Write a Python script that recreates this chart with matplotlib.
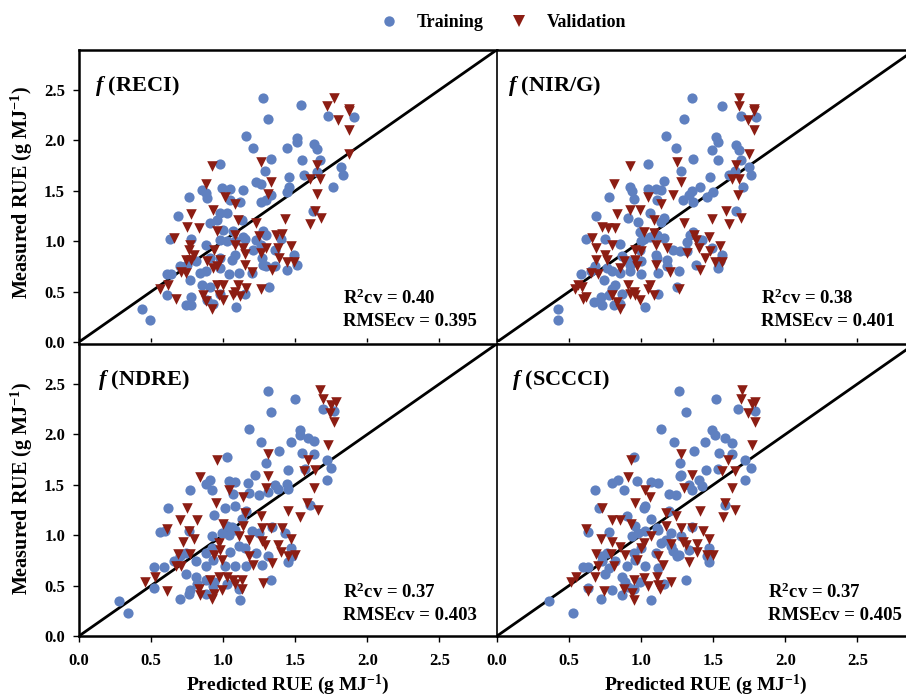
import matplotlib
matplotlib.use('Agg')
import matplotlib.pyplot as plt
from matplotlib.lines import Line2D

plt.rcParams['font.family'] = ['Liberation Serif', 'DejaVu Serif']
plt.rcParams['font.weight'] = 'bold'
plt.rcParams['mathtext.fontset'] = 'custom'
plt.rcParams['mathtext.rm'] = 'Liberation Serif:bold'
plt.rcParams['mathtext.it'] = 'Liberation Serif:italic:bold'
plt.rcParams['mathtext.bf'] = 'Liberation Serif:bold'

# ---------------- data (predicted, measured) ----------------
reci_train = [(1.28,2.42),(1.54,2.35),(1.31,2.21),(1.73,2.24),(1.91,2.23),(1.16,2.04),(1.21,1.92),(1.51,2.02),(1.51,1.98),(1.44,1.92),
    (1.63,1.96),(1.65,1.91),(1.33,1.82),(1.55,1.81),(1.67,1.81),(0.98,1.77),(1.29,1.70),(1.46,1.64),(1.56,1.66),(1.65,1.69),
    (1.82,1.74),(1.83,1.66),(1.23,1.59),(1.26,1.57),(1.46,1.54),(1.44,1.49),(1.76,1.54),(0.85,1.51),(0.88,1.48),(0.99,1.53),
    (1.05,1.52),(1.14,1.51),(1.33,1.46),(1.30,1.41),(1.26,1.39),(0.76,1.44),(0.89,1.43),(1.05,1.41),(1.12,1.39),(0.69,1.25),
    (0.98,1.28),(1.03,1.28),(0.96,1.21),(0.91,1.18),(1.13,1.21),(1.62,1.30),(1.00,1.11),(1.07,1.10),(1.28,1.10),(1.30,1.06),
    (0.63,1.02),(0.78,1.02),(0.88,0.96),(0.98,1.01),(1.03,1.00),(1.14,1.04),(1.15,1.02),(1.08,1.00),(1.23,1.01),(1.26,0.96),
    (1.40,1.02),(1.36,0.91),(1.21,0.91),(1.08,0.86),(0.98,0.83),(1.49,0.86),(0.91,0.83),(0.70,0.75),(0.75,0.76),(0.81,0.80),
    (0.88,0.70),(0.98,0.73),(1.06,0.81),(1.28,0.76),(1.27,0.83),(1.30,0.75),(1.36,0.75),(1.44,0.71),(1.51,0.76),(0.61,0.67),
    (0.64,0.67),(0.77,0.62),(0.84,0.68),(0.85,0.57),(0.91,0.55),(1.04,0.67),(1.11,0.68),(1.20,0.68),(1.32,0.55),(1.15,0.48),
    (0.61,0.47),(0.74,0.37),(0.78,0.45),(0.78,0.37),(0.89,0.42),(0.93,0.38),(0.98,0.48),(1.09,0.35),(0.44,0.33),(0.49,0.22)]
reci_valid = [(1.77,2.42),(1.72,2.34),(1.87,2.31),(1.87,2.29),(1.80,2.20),(1.87,2.10),(1.87,1.87),(0.92,1.75),(1.26,1.79),(1.65,1.76),
    (1.60,1.62),(1.67,1.62),(0.88,1.57),(1.33,1.59),(1.01,1.44),(1.08,1.37),(1.31,1.47),(1.65,1.47),(0.93,1.31),(0.78,1.27),
    (1.64,1.30),(1.68,1.23),(1.43,1.22),(1.60,1.17),(1.10,1.21),(1.23,1.18),(0.75,1.14),(0.83,1.13),(0.96,1.10),(0.66,1.03),
    (1.08,1.06),(1.25,1.05),(1.37,1.06),(1.41,1.07),(0.77,0.96),(0.76,0.91),(1.08,0.96),(1.14,0.93),(1.15,0.87),(1.30,0.93),
    (1.38,0.93),(1.47,0.95),(0.94,0.91),(0.80,0.86),(0.74,0.81),(0.78,0.81),(0.89,0.80),(0.98,0.81),(0.96,0.75),(1.26,0.88),
    (1.15,0.76),(1.39,0.83),(1.44,0.79),(1.49,0.79),(0.71,0.69),(0.74,0.68),(0.93,0.73),(1.20,0.69),(1.34,0.71),(0.62,0.57),
    (0.56,0.53),(0.96,0.57),(1.00,0.57),(1.10,0.57),(1.08,0.50),(1.16,0.54),(1.26,0.53),(0.67,0.43),(0.86,0.47),(0.97,0.47),
    (1.00,0.42),(0.88,0.41),(0.92,0.33),(1.07,0.47),(1.12,0.46)]

nirg_train = [(1.35,2.42),(1.56,2.34),(1.30,2.21),(1.69,2.24),(1.80,2.23),(1.17,2.04),(1.24,1.92),(1.52,2.03),(1.53,1.98),(1.49,1.90),
    (1.66,1.95),(1.68,1.90),(1.36,1.82),(1.53,1.81),(1.69,1.81),(1.05,1.77),(1.28,1.70),(1.48,1.64),(1.61,1.66),(1.65,1.70),
    (1.75,1.74),(1.76,1.66),(1.16,1.60),(1.05,1.52),(1.10,1.52),(1.14,1.51),(0.92,1.54),(0.94,1.50),(1.35,1.50),(1.33,1.46),
    (1.41,1.54),(1.29,1.41),(1.36,1.39),(1.46,1.44),(1.50,1.49),(1.71,1.54),(0.78,1.44),(0.95,1.42),(1.11,1.41),(0.69,1.25),
    (1.06,1.28),(1.16,1.23),(1.14,1.19),(0.91,1.23),(0.98,1.19),(1.66,1.30),(1.36,1.09),(1.34,1.06),(0.99,1.09),(1.02,1.02),
    (1.06,1.04),(1.11,1.06),(0.62,1.02),(0.75,1.02),(0.85,0.97),(1.16,1.03),(1.00,1.00),(1.32,0.99),(1.42,1.01),(1.22,0.91),
    (1.10,0.86),(1.11,0.83),(1.49,0.93),(1.56,0.86),(1.55,0.80),(0.99,0.91),(0.87,0.85),(0.92,0.80),(0.92,0.76),(1.00,0.80),
    (1.18,0.81),(1.27,0.90),(1.32,0.90),(1.18,0.75),(1.38,0.76),(1.53,0.73),(0.58,0.67),(0.65,0.70),(0.68,0.75),(0.76,0.73),
    (0.80,0.70),(0.74,0.62),(0.85,0.68),(0.92,0.70),(1.12,0.68),(1.00,0.67),(1.26,0.70),(1.25,0.55),(0.82,0.57),(0.80,0.53),
    (0.87,0.48),(0.78,0.47),(0.72,0.45),(0.67,0.40),(0.73,0.37),(0.81,0.37),(0.85,0.38),(1.03,0.35),(1.12,0.48),(0.42,0.33),
    (0.42,0.22)]
nirg_valid = [(1.68,2.42),(1.68,2.34),(1.78,2.31),(1.78,2.29),(1.74,2.20),(1.78,2.10),(1.75,1.87),(0.92,1.75),(1.25,1.79),(1.66,1.76),
    (1.63,1.62),(1.68,1.62),(0.81,1.57),(1.28,1.59),(1.05,1.44),(1.14,1.37),(1.22,1.46),(1.67,1.46),(0.92,1.31),(0.99,1.31),
    (0.83,1.27),(1.59,1.30),(1.69,1.23),(1.49,1.22),(1.61,1.17),(1.09,1.21),(1.30,1.18),(0.73,1.14),(0.77,1.13),(0.82,1.13),
    (1.02,1.09),(0.66,1.03),(1.09,1.08),(1.37,1.06),(1.38,1.01),(1.47,1.04),(0.69,0.93),(0.80,0.96),(1.10,0.96),(1.18,0.93),
    (1.00,0.90),(1.40,0.93),(1.55,0.95),(1.48,0.90),(0.96,0.91),(0.75,0.86),(0.69,0.81),(0.76,0.81),(0.88,0.80),(0.96,0.81),
    (0.97,0.75),(1.32,0.88),(1.10,0.76),(1.44,0.83),(1.51,0.79),(1.56,0.79),(0.85,0.73),(0.65,0.68),(0.70,0.67),(1.20,0.69),
    (1.41,0.71),(0.56,0.57),(0.59,0.55),(0.54,0.53),(0.91,0.57),(1.06,0.57),(1.05,0.53),(0.95,0.50),(1.09,0.47),(1.26,0.53),
    (0.60,0.43),(0.62,0.45),(0.80,0.47),(0.83,0.40),(0.96,0.47),(0.99,0.42),(0.92,0.48),(0.85,0.33)]

ndre_train = [(1.31,2.43),(1.50,2.35),(1.33,2.22),(1.69,2.25),(1.77,2.23),(1.18,2.05),(1.26,1.92),(1.53,2.04),(1.53,1.99),(1.59,1.96),
    (1.63,1.93),(1.47,1.92),(1.39,1.84),(1.55,1.82),(1.63,1.81),(1.03,1.78),(1.30,1.72),(1.72,1.75),(1.75,1.67),(1.45,1.65),
    (1.57,1.66),(1.22,1.60),(1.72,1.55),(0.91,1.55),(0.88,1.51),(1.04,1.54),(1.08,1.53),(1.17,1.52),(0.77,1.45),(0.92,1.45),
    (1.07,1.41),(1.18,1.42),(1.25,1.40),(1.31,1.43),(1.36,1.50),(1.38,1.46),(1.44,1.51),(1.45,1.46),(0.62,1.27),(1.01,1.27),
    (1.08,1.29),(1.16,1.24),(0.94,1.20),(1.13,1.16),(1.60,1.30),(0.56,1.03),(0.60,1.04),(0.76,1.04),(1.03,1.09),(1.06,1.08),
    (1.08,1.05),(0.92,0.99),(0.99,1.02),(1.04,1.00),(1.20,1.04),(1.25,1.02),(1.34,1.08),(1.43,1.02),(0.70,0.79),(0.74,0.82),
    (0.81,0.74),(0.88,0.82),(0.92,0.87),(1.05,0.83),(1.11,0.89),(1.15,0.87),(1.23,0.82),(1.31,0.79),(1.47,0.87),(1.48,0.79),
    (0.52,0.68),(0.59,0.68),(0.66,0.74),(0.74,0.62),(0.81,0.59),(0.88,0.69),(0.93,0.75),(1.01,0.69),(1.08,0.69),(1.16,0.69),
    (1.27,0.70),(1.45,0.73),(0.88,0.56),(0.94,0.54),(0.93,0.50),(0.77,0.46),(0.70,0.37),(0.76,0.42),(0.82,0.52),(0.88,0.42),
    (1.03,0.52),(1.11,0.47),(1.12,0.36),(1.33,0.56),(0.52,0.48),(0.28,0.35),(0.34,0.23)]
ndre_valid = [(1.67,2.44),(1.69,2.35),(1.78,2.32),(1.75,2.29),(1.74,2.21),(1.77,2.12),(1.73,1.89),(1.31,1.81),(0.96,1.75),(1.59,1.75),
    (1.56,1.64),(1.64,1.65),(1.31,1.59),(0.84,1.58),(1.04,1.45),(1.30,1.47),(1.63,1.47),(1.14,1.38),(0.95,1.32),(1.58,1.32),
    (0.75,1.27),(1.66,1.25),(1.45,1.24),(1.53,1.18),(0.70,1.15),(0.82,1.15),(1.26,1.19),(1.15,1.22),(0.61,1.06),(1.00,1.11),
    (1.14,1.09),(1.27,1.07),(1.33,1.07),(1.41,1.07),(0.76,1.04),(0.80,0.96),(0.72,0.93),(0.97,0.92),(1.11,0.99),(1.18,0.95),
    (1.27,0.94),(1.29,0.90),(1.38,0.90),(1.47,0.96),(1.40,0.83),(0.98,0.85),(0.69,0.81),(0.77,0.81),(0.94,0.80),(0.99,0.75),
    (1.18,0.79),(1.21,0.70),(1.34,0.72),(1.45,0.79),(1.50,0.80),(0.67,0.69),(0.71,0.69),(0.46,0.54),(0.53,0.59),(0.61,0.45),
    (0.83,0.47),(0.84,0.41),(0.91,0.56),(0.97,0.59),(1.03,0.59),(0.99,0.46),(0.92,0.37),(1.07,0.56),(1.13,0.56),(1.08,0.52),
    (1.13,0.47),(1.28,0.53),(0.94,0.42)]

sccci_train = [(1.26,2.43),(1.52,2.35),(1.31,2.22),(1.67,2.25),(1.79,2.23),(1.14,2.05),(1.23,1.92),(1.49,2.04),(1.51,1.99),(1.58,1.96),
    (1.63,1.91),(1.44,1.92),(1.37,1.84),(1.54,1.82),(1.63,1.81),(0.95,1.78),(1.27,1.72),(1.72,1.75),(1.76,1.67),(1.45,1.65),
    (1.53,1.66),(1.27,1.59),(1.28,1.60),(1.72,1.55),(0.84,1.55),(0.80,1.52),(0.97,1.54),(1.07,1.53),(1.12,1.52),(0.68,1.45),
    (0.88,1.45),(1.03,1.29),(1.02,1.27),(1.19,1.41),(1.24,1.40),(1.33,1.50),(1.40,1.55),(1.42,1.49),(1.35,1.45),(0.71,1.27),
    (0.90,1.19),(1.07,1.16),(1.19,1.24),(1.58,1.30),(0.63,1.03),(0.78,1.03),(0.96,1.09),(0.98,1.02),(1.03,1.04),(1.11,1.07),
    (1.12,1.05),(1.21,1.02),(1.35,1.08),(0.94,0.99),(1.17,0.95),(1.28,0.99),(0.73,0.79),(0.76,0.82),(0.82,0.74),(0.95,0.82),
    (1.00,0.87),(1.10,0.82),(1.14,0.92),(1.21,0.89),(1.22,0.84),(1.26,0.80),(1.33,0.85),(1.47,0.87),(1.47,0.73),(1.46,0.79),
    (0.60,0.68),(0.63,0.68),(0.73,0.74),(0.75,0.62),(0.78,0.67),(0.87,0.59),(0.90,0.69),(0.96,0.75),(1.03,0.69),(1.12,0.67),
    (1.25,0.79),(0.89,0.54),(0.91,0.49),(0.99,0.54),(0.95,0.47),(0.80,0.46),(0.72,0.37),(0.87,0.41),(1.07,0.36),(1.16,0.52),
    (1.31,0.56),(0.63,0.48),(0.36,0.35),(0.53,0.23)]
sccci_valid = [(1.70,2.44),(1.69,2.35),(1.79,2.32),(1.77,2.30),(1.74,2.21),(1.79,2.12),(1.77,1.89),(1.28,1.81),(0.93,1.75),(1.60,1.75),
    (1.56,1.64),(1.65,1.64),(1.35,1.60),(0.91,1.58),(1.03,1.45),(1.30,1.47),(1.63,1.47),(1.06,1.38),(0.96,1.32),(1.58,1.32),
    (0.73,1.27),(1.65,1.25),(1.41,1.24),(1.57,1.18),(0.80,1.15),(0.85,1.15),(1.24,1.19),(1.17,1.22),(0.62,1.06),(0.93,1.11),
    (1.17,1.09),(1.28,1.07),(1.35,1.07),(1.43,1.04),(0.72,0.96),(0.80,0.93),(1.02,0.92),(1.07,0.99),(1.21,0.91),(1.29,0.93),
    (1.31,0.90),(1.39,0.91),(1.47,0.96),(1.39,0.83),(1.00,0.87),(0.69,0.81),(0.79,0.81),(0.89,0.80),(0.97,0.75),(1.12,0.79),
    (1.15,0.70),(1.33,0.73),(1.46,0.80),(1.50,0.80),(0.70,0.69),(0.81,0.69),(0.51,0.54),(0.55,0.59),(0.63,0.45),(0.74,0.45),
    (0.88,0.47),(0.95,0.56),(1.02,0.58),(1.05,0.50),(0.94,0.43),(0.95,0.36),(1.11,0.59),(1.12,0.51),(1.13,0.47),(1.21,0.54),
    (0.68,0.59),(0.85,0.88)]

panel_names = ['RECI', 'NIR/G', 'NDRE', 'SCCCI']
r2_values = ['0.40', '0.38', '0.37', '0.37']
rmse_values = ['0.395', '0.401', '0.403', '0.405']
tick_values = [0.0, 0.5, 1.0, 1.5, 2.0, 2.5]
tick_labels = ['0.0', '0.5', '1.0', '1.5', '2.0', '2.5']
series = [(reci_train, reci_valid), (nirg_train, nirg_valid),
          (ndre_train, ndre_valid), (sccci_train, sccci_valid)]

# ---------------- style ----------------
BLUE = '#5F80C0'
RED = '#8C1D13'
LIM = 2.9
W, H = 906, 698

fig = plt.figure(figsize=(W / 100, H / 100), dpi=100)
fig.patch.set_facecolor('white')

lefts = [79, 497, 79, 497]
bottoms = [342, 342, 636, 636]
title_x = [0.038, 0.027, 0.045, 0.035]
text_x = [1.83, 1.83, 1.83, 1.88]

axes = []
for i in range(4):
    ax = fig.add_axes([lefts[i] / W, 1 - bottoms[i] / H, 418 / W, LIM * 100.8 / H])
    axes.append(ax)
    ax.set_xlim(0, LIM)
    ax.set_ylim(0, LIM)
    ax.plot([0, LIM], [0, LIM], color='black', lw=2.0, zorder=1, solid_capstyle='butt')
    tr, va = series[i]
    ax.scatter([p[0] for p in tr], [p[1] for p in tr], s=54, marker='o',
               color=BLUE, linewidths=0, zorder=2)
    ax.scatter([p[0] for p in va], [p[1] for p in va], s=58, marker='v',
               color=RED, linewidths=0, zorder=3)

    for sp in ax.spines.values():
        sp.set_linewidth(1.8)
        sp.set_color('black')
    col = i % 2
    row = i // 2
    if col == 0:
        ax.spines['right'].set_visible(False)
    else:
        ax.spines['left'].set_linewidth(1.2)
    if row == 0:
        ax.spines['bottom'].set_visible(False)

    ax.set_xticks(tick_values)
    ax.set_yticks(tick_values)
    if row == 1:
        ax.set_xticklabels(tick_labels)
        ax.tick_params(axis='x', direction='out', length=4, width=1, pad=8,
                       labelsize=12)
        ax.set_xlabel('Predicted RUE (g MJ$^{-1}$)', fontsize=14, fontweight='bold',
                      labelpad=3)
    else:
        ax.tick_params(axis='x', direction='in', length=3, width=1, labelbottom=False)
    if col == 0:
        ax.set_yticklabels(tick_labels)
        ax.tick_params(axis='y', direction='out', length=4, width=1, pad=6,
                       labelsize=12)
    else:
        ax.tick_params(axis='y', left=False, labelleft=False)
    for lab in ax.get_xticklabels() + ax.get_yticklabels():
        lab.set_fontweight('bold')

    ax.text(title_x[i], 0.875, '$f$ (' + panel_names[i] + ')', transform=ax.transAxes,
            fontsize=16, fontweight='bold', va='center', ha='left')
    ax.text(text_x[i], 0.38, 'R$^{2}$cv = ' + r2_values[i], fontsize=13.5,
            fontweight='bold', ha='left', va='baseline')
    ax.text(text_x[i], 0.16, 'RMSEcv = ' + rmse_values[i], fontsize=13.5,
            fontweight='bold', ha='left', va='baseline')

# y-axis labels, one per row
for yc in [193, 489]:
    fig.text(22 / W, 1 - yc / H, 'Measured RUE (g MJ$^{-1}$)', rotation=90,
             fontsize=14.5, fontweight='bold', ha='center', va='center')

handles = [Line2D([], [], marker='o', ls='', color=BLUE, markersize=7.5, markeredgewidth=0),
           Line2D([], [], marker='v', ls='', color=RED, markersize=8, markeredgewidth=0)]
fig.legend(handles, ['Training', 'Validation'], loc='upper center',
           bbox_to_anchor=(503 / W, 1 + 2 / H), ncol=2, frameon=False,
           prop={'weight': 'bold', 'size': 13}, handlelength=1.0,
           handletextpad=1.05, columnspacing=1.45)

fig.savefig('out.png', dpi=100, facecolor='white')
